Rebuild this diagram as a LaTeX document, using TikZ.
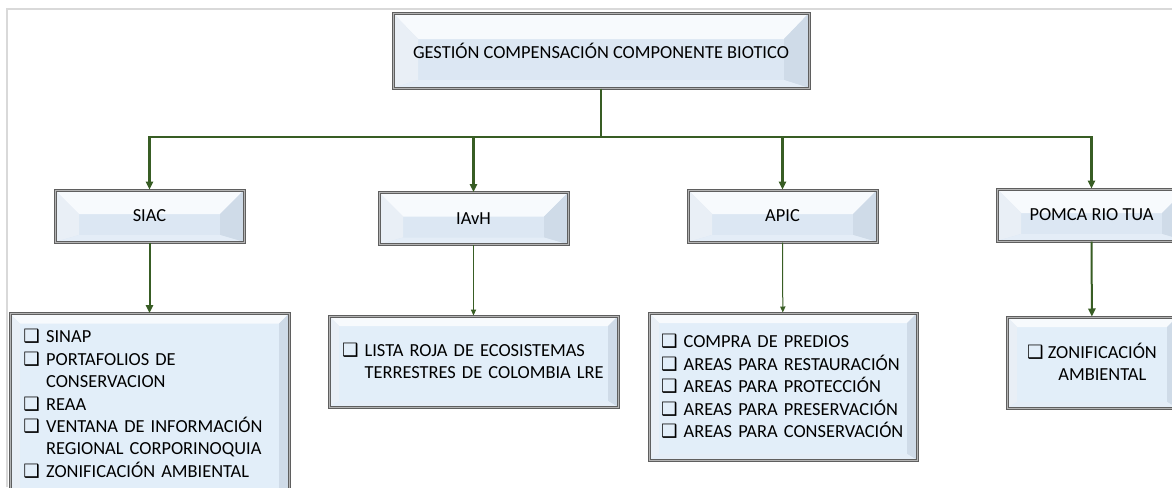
\documentclass[tikz,border=0pt]{standalone}
\usepackage{fontspec}
\setmainfont{Carlito}
\newfontfamily\symfont{DejaVu Sans}
\usetikzlibrary{arrows.meta}
\definecolor{linkgreen}{HTML}{385D24}
\definecolor{rimgray}{HTML}{5F5F5F}
\definecolor{rimlight}{HTML}{B4B4B4}
\definecolor{framegray}{HTML}{D9D9D9}
\definecolor{bvtop}{HTML}{F7FAFD}
\definecolor{bvmid}{HTML}{DCE7F3}
\definecolor{bvleft}{HTML}{E9EFF6}
\definecolor{bvright}{HTML}{CFDBE8}
\definecolor{bvbot}{HTML}{E4EDF7}
\definecolor{listblue}{HTML}{E2EEF9}
\newcommand{\bx}{{\symfont\char"2751}~}
\newcommand{\hang}{\phantom{\bx}}

\begin{document}
\begin{tikzpicture}[x=0.5pt, y=-0.5pt,
    font=\fontsize{9.2}{11.2}\selectfont,
    bevel/.style n args={3}{draw=rimgray, double=rimlight, double distance=0.5pt,
      line width=0.5pt, fill=bvmid, inner sep=0pt,
      path picture={
        \path (path picture bounding box.north west) coordinate (bnw)
              (path picture bounding box.north east) coordinate (bne)
              (path picture bounding box.south west) coordinate (bsw)
              (path picture bounding box.south east) coordinate (bse);
        \fill[bvtop] (bnw) -- (bne) -- ([shift={(-#1,-#2)}]bne) -- ([shift={(#1,-#2)}]bnw) -- cycle;
        \fill[bvleft] (bnw) -- ([shift={(#1,-#2)}]bnw) -- ([shift={(#1,#3)}]bsw) -- (bsw) -- cycle;
        \fill[bvright] (bne) -- ([shift={(-#1,-#2)}]bne) -- ([shift={(-#1,#3)}]bse) -- (bse) -- cycle;
        \fill[bvbot] (bsw) -- ([shift={(#1,#3)}]bsw) -- ([shift={(-#1,#3)}]bse) -- (bse) -- cycle;
      }},
    headbox/.style={bevel={12pt}{12pt}{3.5pt}, minimum width=94.5pt, minimum height=26pt},
    listbox/.style={bevel={5pt}{5pt}{3pt}, fill=listblue, align=left},
    trunk/.style={draw=linkgreen, line width=1.3pt},
    thick link/.style={draw=linkgreen, line width=1pt, -{Triangle[length=4pt,width=3.6pt]}},
    thin link/.style={draw=linkgreen, line width=0.5pt, -{Triangle[length=3pt,width=2.6pt]}}]

    \useasboundingbox (0,0) rectangle (1172,487);
    \clip (0,0) rectangle (1172,487);
    \fill[white] (0,0) rectangle (1172,487);
    \draw[framegray, line width=1pt] (7,487) -- (7,9) -- (1172,9);

    % top of the tree
    \node[bevel={12.5pt}{13pt}{4pt}, minimum width=208pt, minimum height=37.5pt]
      (title) at (601,50.5) {GESTIÓN COMPENSACIÓN COMPONENTE BIOTICO};
    \coordinate (hub) at (601,137);

    % second level
    \foreach \n/\x/\y/\t in {siac/149.5/216/SIAC, iavh/473.5/218.5/IAvH,
        apic/782.5/216/APIC, pomca/1091.5/215/POMCA RIO TUA}
      \node[headbox] (\n) at (\x,\y) {\t};

    \draw[trunk] (title.south) -- (hub);
    \foreach \n in {siac,iavh,apic,pomca}
      \draw[trunk, -{Triangle[length=4pt,width=3.6pt]}] (hub) -| (\n.north);

    % lists
    \node[listbox, anchor=north, text width=126pt, inner xsep=6.75pt, inner ysep=8pt]
      (siaclist) at (149.5,313)
      {\bx SINAP\\ \bx PORTAFOLIOS DE\\ \hang CONSERVACION\\ \bx REAA\\
       \bx VENTANA DE INFORMACIÓN\\ \hang REGIONAL CORPORINOQUIA\\ \bx ZONIFICACIÓN AMBIENTAL\\ \strut};
    \node[listbox, text width=131.5pt, inner xsep=6.5pt, minimum height=45.5pt]
      (iavhlist) at (473.5,361.5)
      {\bx LISTA ROJA DE ECOSISTEMAS\\ \hang TERRESTRES DE COLOMBIA LRE};
    \node[listbox, text width=122pt, inner xsep=6pt, minimum height=73.5pt]
      (apiclist) at (783,386.5)
      {\bx COMPRA DE PREDIOS\\ \bx AREAS PARA RESTAURACIÓN\\ \bx AREAS PARA PROTECCIÓN\\
       \bx AREAS PARA PRESERVACIÓN\\ \bx AREAS PARA CONSERVACIÓN};
    \node[listbox, align=center, minimum width=85pt, minimum height=45.5pt]
      (pomcalist) at (1092,362.5)
      {\bx ZONIFICACIÓN\\ \hang AMBIENTAL};

    \draw[thick link] (siac) -- (siaclist);
    \draw[thin link] (iavh) -- (iavhlist);
    \draw[thin link] (apic) -- (apiclist);
    \draw[thick link] (pomca) -- (pomcalist);
  \end{tikzpicture}
\end{document}
